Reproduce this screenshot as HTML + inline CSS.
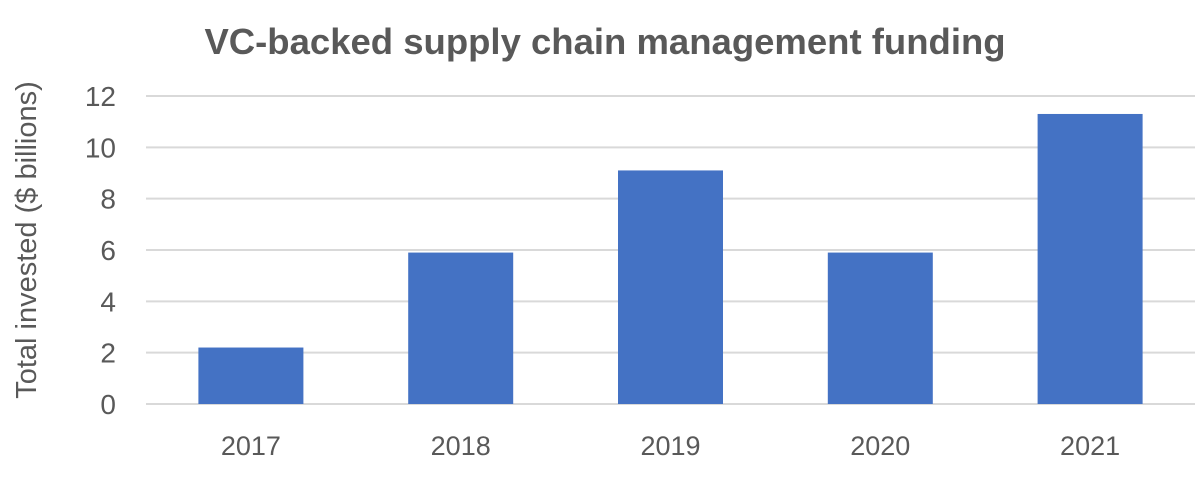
<!DOCTYPE html>
<html><head><meta charset="utf-8"><style>
body{margin:0;background:#fff;width:1200px;height:478px;overflow:hidden;font-family:"Liberation Sans",sans-serif}
</style></head><body>
<svg width="1200" height="478" id="c">
<text x="605" y="54" text-anchor="middle" font-size="36.5" font-weight="bold" fill="#595959">VC-backed supply chain management funding</text>
<text transform="translate(36,240) rotate(-90)" text-anchor="middle" font-size="29" fill="#595959">Total invested ($ billions)</text>
</svg>
<script>
const categories=["2017","2018","2019","2020","2021"];
const values=[2.2,5.9,9.1,5.9,11.3];
const yTicks=[0,2,4,6,8,10,12];
const svg=document.getElementById('c');const NS="http://www.w3.org/2000/svg";
const x0=146,x1=1195,y0=404,y1=96,ymax=12;
const y=v=>y0-(y0-y1)*v/ymax;
const band=(x1-x0)/categories.length;
const xc=i=>x0+band*(i+0.5);
function mk(t,a){const e=document.createElementNS(NS,t);for(const k in a)e.setAttribute(k,a[k]);svg.appendChild(e);return e;}
yTicks.forEach(t=>{
const g=mk('line',{x1:x0,x2:x1,y1:y(t),y2:y(t),stroke:'#d9d9d9','stroke-width':2});


const l=mk('text',{x:116,y:y(t)+10,'text-anchor':'end','font-size':28,fill:'#595959'});l.textContent=t;


});
categories.forEach((c,i)=>{
const w=105;
const b=mk('rect',{x:xc(i)-w/2,y:y(values[i]),width:w,height:y0-y(values[i]),fill:'#4472c4'});


const l=mk('text',{x:xc(i),y:455,'text-anchor':'middle','font-size':27,fill:'#595959'});l.textContent=c;


});
</script>
</body></html>
